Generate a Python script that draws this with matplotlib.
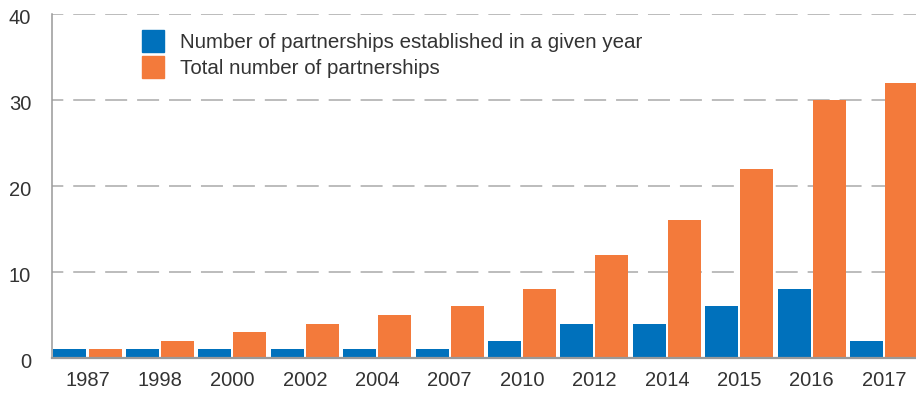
import numpy as np
import matplotlib.pyplot as plt
from matplotlib.patches import Patch
from matplotlib.transforms import ScaledTranslation

# data
years = ['1987', '1998', '2000', '2002', '2004', '2007', '2010', '2012', '2014', '2015', '2016', '2017']
new_per_year = [1, 1, 1, 1, 1, 1, 2, 4, 4, 6, 8, 2]
total = [1, 2, 3, 4, 5, 6, 8, 12, 16, 22, 30, 32]

blue = '#0071bc'
orange = '#f37a3b'
txt = '#333333'

plt.rcParams['font.family'] = ['Liberation Sans', 'DejaVu Sans']

fig = plt.figure(figsize=(9.16, 3.93), dpi=100)
ax = fig.add_axes([52 / 916, 35 / 393, 864 / 916, 344 / 393])

x = np.arange(len(years))
w = 0.456
off = 0.242
ax.bar(x - off, new_per_year, width=w, color=blue, zorder=3)
ax.bar(x + off, total, width=w, color=orange, zorder=3)

ax.set_xlim(-0.49, 11.44)
ax.set_ylim(0, 40)
ax.set_yticks([0, 10, 20, 30, 40])
ax.set_xticks(x)
ax.set_xticklabels(years)

ax.yaxis.grid(True, color='#aaaaaa', linewidth=1.1, linestyle=(7, (14.4, 6.5)), zorder=0)
ax.set_axisbelow(True)
ax.tick_params(axis='both', length=0, labelsize=14.5, colors=txt)
ax.tick_params(axis='y', pad=15)
ax.tick_params(axis='x', pad=9)

# y labels sit a little below their gridlines
shift = ScaledTranslation(0, -0.03, fig.dpi_scale_trans)
for lab in ax.get_yticklabels():
    lab.set_transform(lab.get_transform() + shift)

for s in ['top', 'right']:
    ax.spines[s].set_visible(False)
ax.spines['left'].set_color('#999999')
ax.spines['left'].set_linewidth(1.1)
ax.spines['bottom'].set_color('#999999')
ax.spines['bottom'].set_linewidth(1.6)
ax.spines['bottom'].set_zorder(4)

handles = [Patch(color=blue), Patch(color=orange)]
ax.legend(handles, ['Number of partnerships established in a given year', 'Total number of partnerships'],
          loc='upper left', bbox_to_anchor=(90 / 864, 1 - 16 / 344), frameon=False, fontsize=14.8,
          handlelength=1.07, handleheight=1.25, handletextpad=0.78, labelspacing=0.2,
          labelcolor=txt, borderaxespad=0, borderpad=0)

fig.savefig('out.png', dpi=100)
